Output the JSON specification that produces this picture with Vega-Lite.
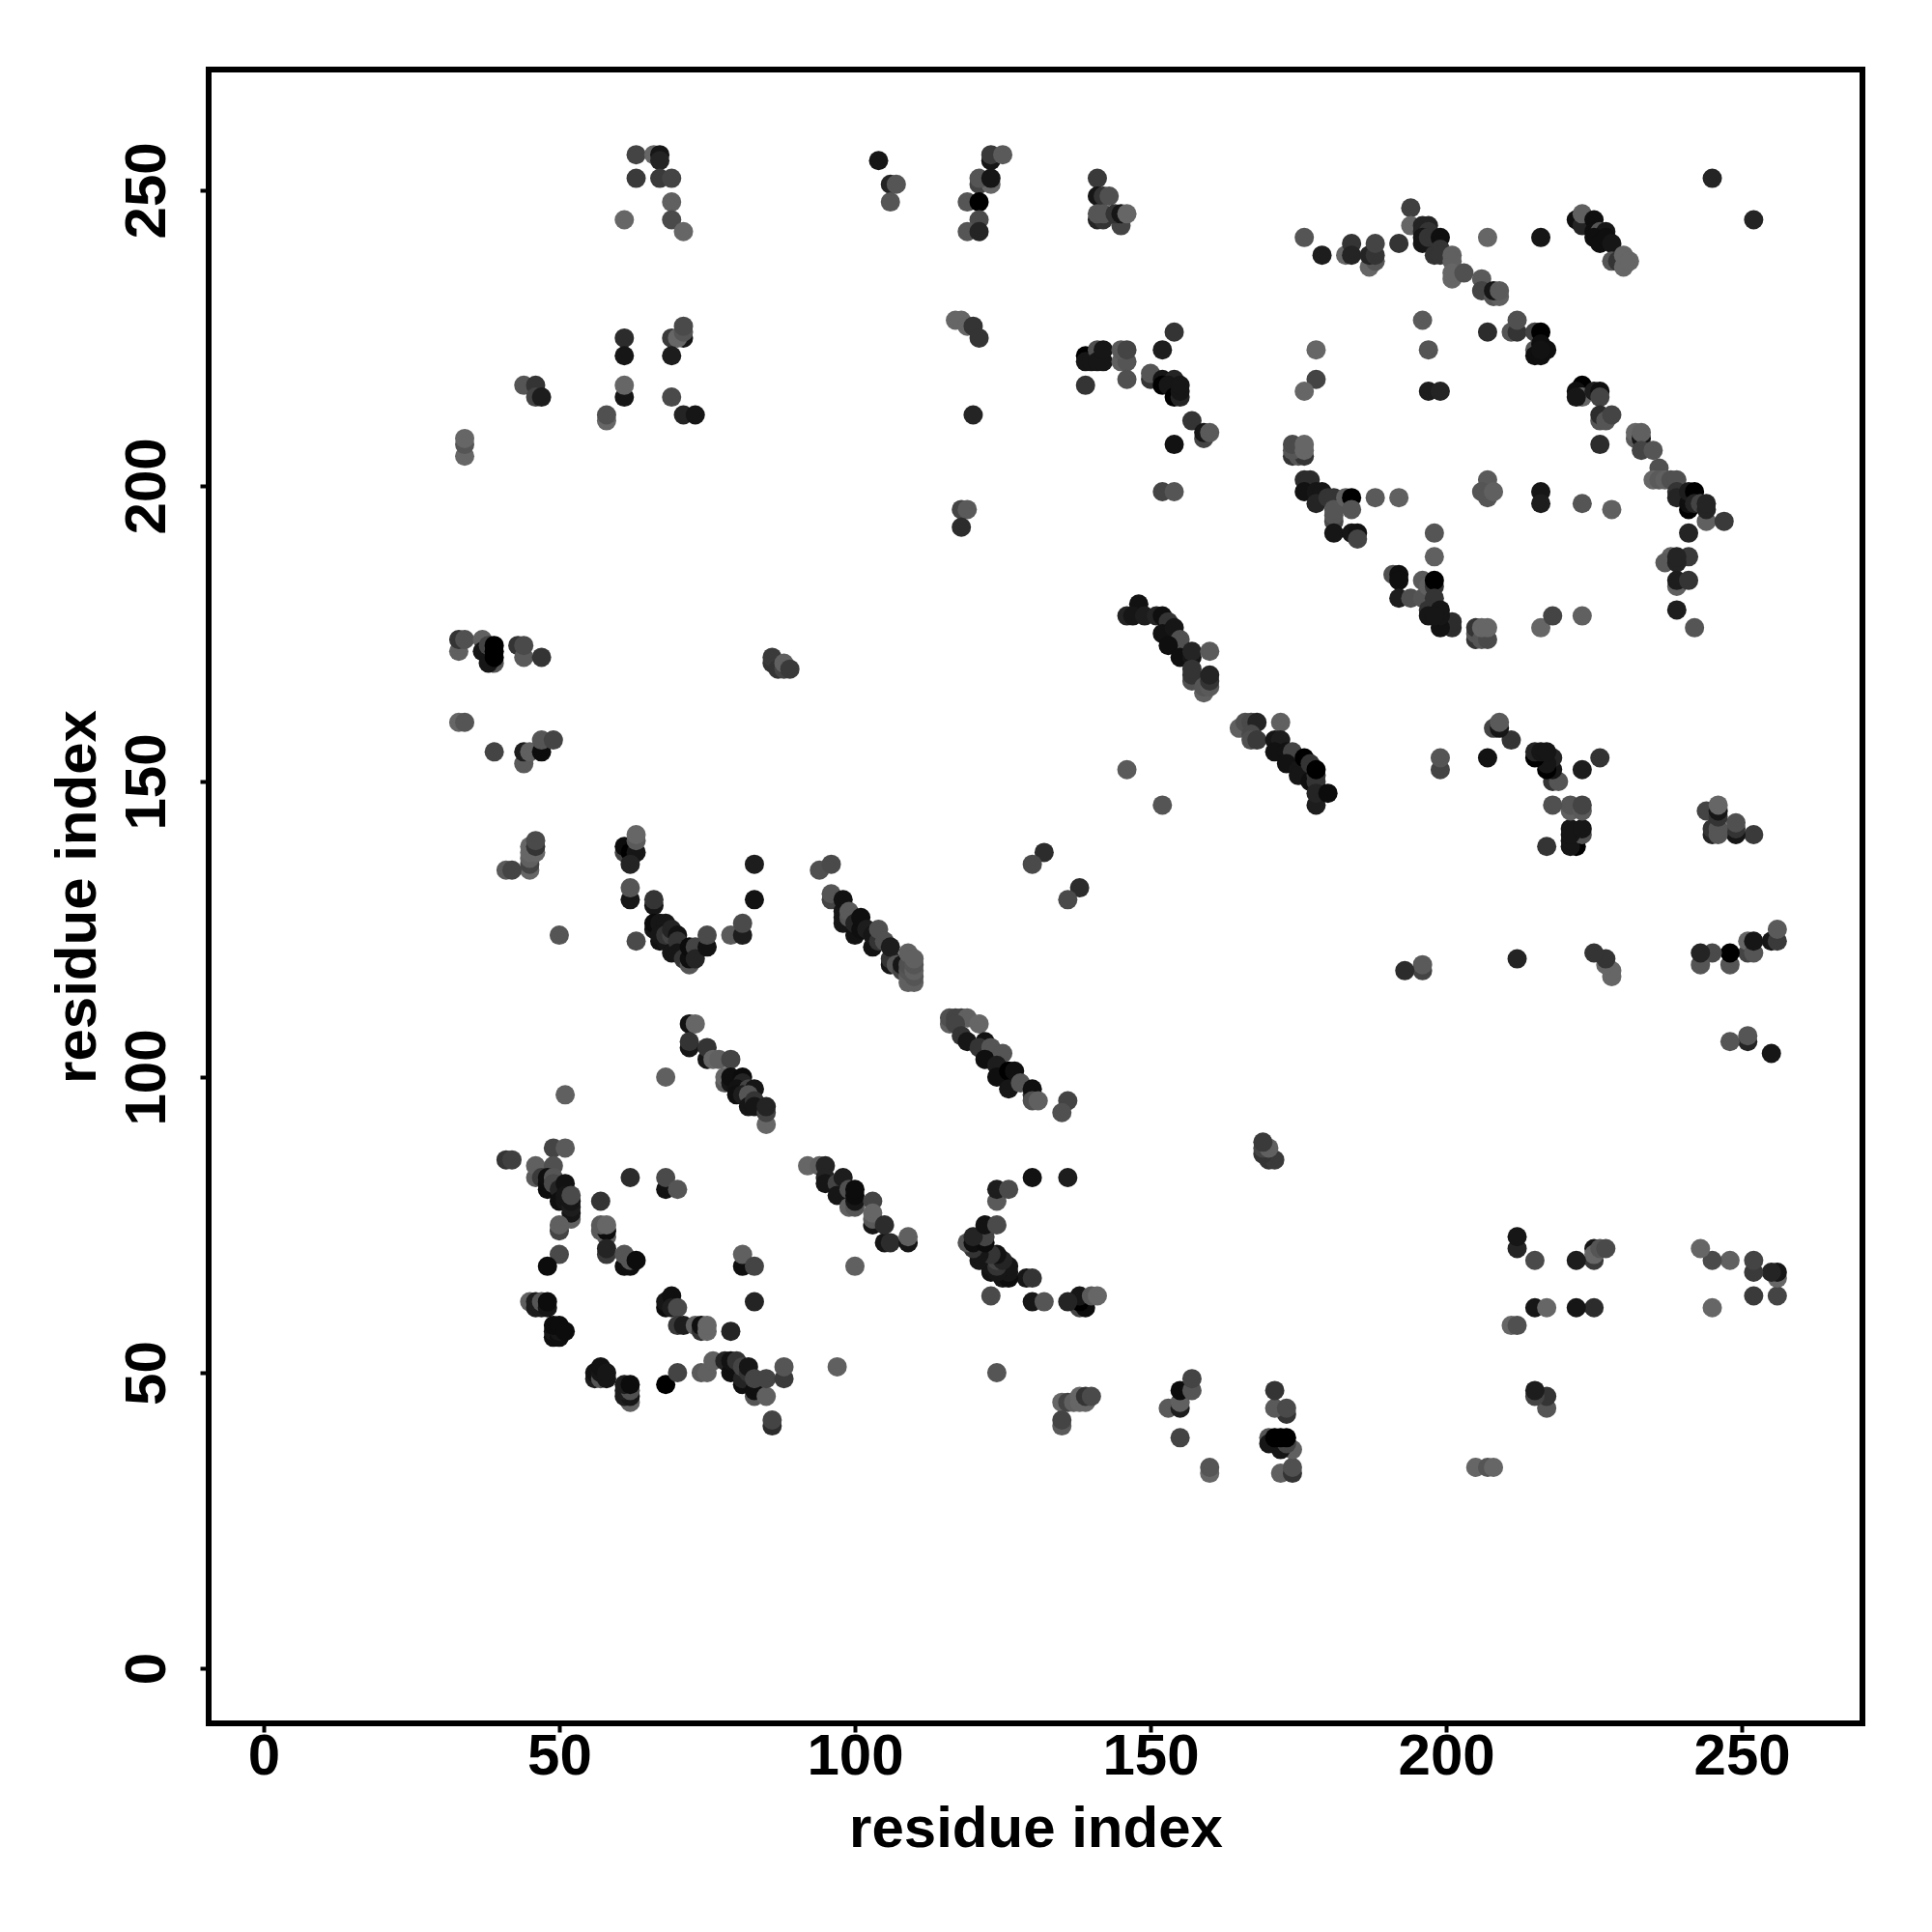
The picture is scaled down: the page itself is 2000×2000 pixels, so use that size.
{"$schema":"https://vega.github.io/schema/vega-lite/v6.json","autosize":"none","width":1712,"height":1712,"padding":{"left":216,"top":72,"right":72,"bottom":216},"background":"white","view":{"stroke":"black","strokeWidth":6,"fill":"white"},"data":{"values":[
{"x":63,"y":256,"g":68},{"x":66,"y":256,"g":102},{"x":67,"y":256,"g":17},{"x":67,"y":255,"g":34},{"x":63,"y":252,"g":58},{"x":67,"y":252,"g":58},{"x":69,"y":252,"g":68},{"x":69,"y":248,"g":96},{"x":61,"y":245,"g":102},{"x":69,"y":245,"g":74},{"x":71,"y":243,"g":102},{"x":104,"y":255,"g":17},{"x":106,"y":251,"g":34},{"x":107,"y":251,"g":85},{"x":106,"y":248,"g":85},{"x":61,"y":225,"g":42},{"x":61,"y":222,"g":17},{"x":69,"y":225,"g":58},{"x":71,"y":225,"g":17},{"x":70,"y":225,"g":102},{"x":71,"y":226,"g":85},{"x":71,"y":227,"g":74},{"x":69,"y":222,"g":26},{"x":44,"y":217,"g":85},{"x":46,"y":217,"g":51},{"x":46,"y":215,"g":68},{"x":47,"y":215,"g":26},{"x":61,"y":215,"g":17},{"x":61,"y":217,"g":102},{"x":69,"y":215,"g":74},{"x":71,"y":212,"g":34},{"x":73,"y":212,"g":17},{"x":58,"y":211,"g":102},{"x":58,"y":212,"g":80},{"x":34,"y":205,"g":102},{"x":34,"y":207,"g":85},{"x":34,"y":208,"g":102},
{"y":63,"x":256,"g":68},{"y":66,"x":256,"g":102},{"y":67,"x":256,"g":17},{"y":67,"x":255,"g":34},{"y":63,"x":252,"g":58},{"y":67,"x":252,"g":58},{"y":69,"x":252,"g":68},{"y":69,"x":248,"g":96},{"y":61,"x":245,"g":102},{"y":69,"x":245,"g":74},{"y":71,"x":243,"g":102},{"y":104,"x":255,"g":17},{"y":106,"x":251,"g":34},{"y":107,"x":251,"g":85},{"y":106,"x":248,"g":85},{"y":61,"x":225,"g":42},{"y":61,"x":222,"g":17},{"y":69,"x":225,"g":58},{"y":71,"x":225,"g":17},{"y":70,"x":225,"g":102},{"y":71,"x":226,"g":85},{"y":71,"x":227,"g":74},{"y":69,"x":222,"g":26},{"y":44,"x":217,"g":85},{"y":46,"x":217,"g":51},{"y":46,"x":215,"g":68},{"y":47,"x":215,"g":26},{"y":61,"x":215,"g":17},{"y":61,"x":217,"g":102},{"y":69,"x":215,"g":74},{"y":71,"x":212,"g":34},{"y":73,"x":212,"g":17},{"y":58,"x":211,"g":102},{"y":58,"x":212,"g":80},{"y":34,"x":205,"g":102},{"y":34,"x":207,"g":85},{"y":34,"x":208,"g":102},
{"x":123,"y":255,"g":17},{"x":123,"y":256,"g":58},{"x":125,"y":256,"g":90},{"x":121,"y":251,"g":68},{"x":123,"y":251,"g":102},{"x":121,"y":252,"g":85},{"x":123,"y":252,"g":17},{"x":119,"y":248,"g":85},{"x":121,"y":248,"g":0},{"x":121,"y":245,"g":74},{"x":119,"y":243,"g":85},{"x":121,"y":243,"g":34},{"x":141,"y":252,"g":58},{"x":141,"y":249,"g":17},{"x":142,"y":249,"g":51},{"x":143,"y":249,"g":80},{"x":141,"y":245,"g":34},{"x":142,"y":245,"g":51},{"x":141,"y":246,"g":85},{"x":142,"y":246,"g":85},{"x":145,"y":244,"g":68},{"x":144,"y":246,"g":51},{"x":145,"y":246,"g":17},{"x":146,"y":246,"g":102},{"x":117,"y":228,"g":102},{"x":118,"y":228,"g":102},{"x":119,"y":227,"g":102},{"x":120,"y":227,"g":51},{"x":121,"y":225,"g":51},{"x":139,"y":222,"g":0},{"x":139,"y":221,"g":17},{"x":140,"y":221,"g":17},{"x":141,"y":223,"g":80},{"x":141,"y":221,"g":17},{"x":142,"y":221,"g":17},{"x":142,"y":223,"g":17},{"x":145,"y":221,"g":96},{"x":146,"y":221,"g":85},{"x":145,"y":223,"g":90},{"x":146,"y":223,"g":68},{"x":139,"y":217,"g":51},{"x":146,"y":218,"g":80},{"x":150,"y":218,"g":51},{"x":150,"y":219,"g":85},{"x":152,"y":218,"g":17},{"x":154,"y":218,"g":34},{"x":152,"y":217,"g":0},{"x":153,"y":217,"g":17},{"x":154,"y":215,"g":0},{"x":155,"y":215,"g":34},{"x":155,"y":216,"g":17},{"x":155,"y":217,"g":17},{"x":152,"y":223,"g":26},{"x":154,"y":226,"g":51},{"x":120,"y":212,"g":34},{"x":157,"y":211,"g":51},{"x":159,"y":208,"g":68},{"x":159,"y":209,"g":17},{"x":160,"y":209,"g":90},{"x":154,"y":207,"g":13},{"x":152,"y":199,"g":68},{"x":154,"y":199,"g":85},{"x":118,"y":196,"g":68},{"x":119,"y":196,"g":90},{"x":118,"y":193,"g":42},
{"y":123,"x":255,"g":17},{"y":123,"x":256,"g":58},{"y":125,"x":256,"g":90},{"y":121,"x":251,"g":68},{"y":123,"x":251,"g":102},{"y":121,"x":252,"g":85},{"y":123,"x":252,"g":17},{"y":119,"x":248,"g":85},{"y":121,"x":248,"g":0},{"y":121,"x":245,"g":74},{"y":119,"x":243,"g":85},{"y":121,"x":243,"g":34},{"y":141,"x":252,"g":58},{"y":141,"x":249,"g":17},{"y":142,"x":249,"g":51},{"y":143,"x":249,"g":80},{"y":141,"x":245,"g":34},{"y":142,"x":245,"g":51},{"y":141,"x":246,"g":85},{"y":142,"x":246,"g":85},{"y":145,"x":244,"g":68},{"y":144,"x":246,"g":51},{"y":145,"x":246,"g":17},{"y":146,"x":246,"g":102},{"y":117,"x":228,"g":102},{"y":118,"x":228,"g":102},{"y":119,"x":227,"g":102},{"y":120,"x":227,"g":51},{"y":121,"x":225,"g":51},{"y":139,"x":222,"g":0},{"y":139,"x":221,"g":17},{"y":140,"x":221,"g":17},{"y":141,"x":223,"g":80},{"y":141,"x":221,"g":17},{"y":142,"x":221,"g":17},{"y":142,"x":223,"g":17},{"y":145,"x":221,"g":96},{"y":146,"x":221,"g":85},{"y":145,"x":223,"g":90},{"y":146,"x":223,"g":68},{"y":139,"x":217,"g":51},{"y":146,"x":218,"g":80},{"y":150,"x":218,"g":51},{"y":150,"x":219,"g":85},{"y":152,"x":218,"g":17},{"y":154,"x":218,"g":34},{"y":152,"x":217,"g":0},{"y":153,"x":217,"g":17},{"y":154,"x":215,"g":0},{"y":155,"x":215,"g":34},{"y":155,"x":216,"g":17},{"y":155,"x":217,"g":17},{"y":152,"x":223,"g":26},{"y":154,"x":226,"g":51},{"y":120,"x":212,"g":34},{"y":157,"x":211,"g":51},{"y":159,"x":208,"g":68},{"y":159,"x":209,"g":17},{"y":160,"x":209,"g":90},{"y":154,"x":207,"g":13},{"y":152,"x":199,"g":68},{"y":154,"x":199,"g":85},{"y":118,"x":196,"g":68},{"y":119,"x":196,"g":90},{"y":118,"x":193,"g":42},
{"x":178,"y":223,"g":102},{"x":178,"y":218,"g":68},{"x":176,"y":216,"g":102},{"x":176,"y":242,"g":85},{"x":179,"y":239,"g":26},{"x":183,"y":239,"g":102},{"x":184,"y":241,"g":51},{"x":184,"y":239,"g":34},{"x":187,"y":237,"g":102},{"x":188,"y":238,"g":85},{"x":187,"y":239,"g":34},{"x":188,"y":239,"g":51},{"x":188,"y":241,"g":68},{"x":192,"y":241,"g":51},{"x":174,"y":205,"g":51},{"x":175,"y":205,"g":85},{"x":176,"y":205,"g":51},{"x":174,"y":206,"g":85},{"x":174,"y":207,"g":74},{"x":176,"y":206,"g":102},{"x":176,"y":207,"g":102},{"x":176,"y":201,"g":42},{"x":177,"y":201,"g":42},{"x":176,"y":199,"g":13},{"x":178,"y":199,"g":17},{"x":179,"y":199,"g":17},{"x":178,"y":197,"g":34},{"x":180,"y":198,"g":51},{"x":181,"y":198,"g":51},{"x":181,"y":194,"g":74},{"x":181,"y":195,"g":85},{"x":181,"y":196,"g":85},{"x":181,"y":192,"g":17},{"x":183,"y":198,"g":96},{"x":184,"y":198,"g":0},{"x":184,"y":196,"g":85},{"x":184,"y":192,"g":17},{"x":185,"y":192,"g":13},{"x":185,"y":191,"g":68},{"x":188,"y":198,"g":90},{"x":192,"y":198,"g":96},
{"y":176,"x":216,"g":102},{"y":176,"x":242,"g":85},{"y":174,"x":205,"g":51},{"y":175,"x":205,"g":85},{"y":176,"x":205,"g":51},{"y":174,"x":206,"g":85},{"y":174,"x":207,"g":74},{"y":176,"x":206,"g":102},{"y":176,"x":207,"g":102},{"y":176,"x":201,"g":42},{"y":177,"x":201,"g":42},{"y":176,"x":199,"g":13},{"y":178,"x":199,"g":17},
{"x":245,"y":252,"g":34},{"x":252,"y":245,"g":34},{"x":194,"y":247,"g":64},{"x":194,"y":244,"g":102},{"x":196,"y":244,"g":34},{"x":197,"y":244,"g":34},{"x":196,"y":243,"g":34},{"x":197,"y":243,"g":51},{"x":196,"y":242,"g":17},{"x":196,"y":241,"g":17},{"x":197,"y":242,"g":51},{"x":198,"y":242,"g":51},{"x":199,"y":242,"g":10},{"x":198,"y":239,"g":51},{"x":199,"y":240,"g":51},{"x":199,"y":239,"g":51},{"x":201,"y":239,"g":96},{"x":201,"y":238,"g":96},{"x":201,"y":235,"g":102},{"x":201,"y":236,"g":102},{"x":203,"y":236,"g":80},{"x":206,"y":235,"g":90},{"x":206,"y":233,"g":68},{"x":208,"y":232,"g":85},{"x":209,"y":232,"g":96},{"x":208,"y":233,"g":17},{"x":209,"y":233,"g":90},{"x":207,"y":242,"g":102},{"x":216,"y":242,"g":17},{"x":222,"y":245,"g":10},{"x":223,"y":244,"g":34},{"x":223,"y":246,"g":96},{"x":225,"y":245,"g":10},{"x":225,"y":243,"g":10},{"x":226,"y":243,"g":85},{"x":227,"y":243,"g":17},{"x":225,"y":242,"g":10},{"x":226,"y":241,"g":10},{"x":227,"y":242,"g":10},{"x":228,"y":241,"g":17},{"x":228,"y":238,"g":85},{"x":229,"y":238,"g":51},{"x":230,"y":237,"g":102},{"x":230,"y":239,"g":102},{"x":231,"y":238,"g":102},
{"x":196,"y":228,"g":90},{"x":197,"y":223,"g":85},{"x":197,"y":216,"g":26},{"x":199,"y":216,"g":34},{"x":207,"y":226,"g":42},{"x":211,"y":226,"g":85},{"x":212,"y":226,"g":51},{"x":212,"y":228,"g":80},{"x":215,"y":226,"g":68},{"x":216,"y":226,"g":0},{"x":215,"y":223,"g":85},{"x":215,"y":222,"g":10},{"x":216,"y":224,"g":10},{"x":216,"y":222,"g":10},{"x":217,"y":223,"g":10},{"x":216,"y":223,"g":13},{"x":223,"y":217,"g":0},{"x":222,"y":216,"g":10},{"x":223,"y":215,"g":102},{"x":222,"y":215,"g":17},{"x":225,"y":216,"g":26},{"x":226,"y":216,"g":10},{"x":226,"y":215,"g":68},{"x":226,"y":211,"g":85},{"x":226,"y":212,"g":42},{"x":227,"y":211,"g":85},{"x":228,"y":212,"g":68},{"x":226,"y":207,"g":42},{"x":232,"y":208,"g":90},{"x":232,"y":209,"g":102},{"x":233,"y":208,"g":17},{"x":233,"y":209,"g":96},{"x":233,"y":206,"g":68},{"x":235,"y":206,"g":85},{"x":236,"y":203,"g":80},{"x":235,"y":201,"g":102},{"x":236,"y":201,"g":90},{"x":237,"y":201,"g":96},{"x":238,"y":201,"g":80},{"x":239,"y":201,"g":80},{"x":239,"y":199,"g":51},{"x":239,"y":198,"g":34},{"x":241,"y":196,"g":0},{"x":241,"y":197,"g":10},{"x":241,"y":199,"g":26},{"x":242,"y":199,"g":0},{"x":242,"y":197,"g":34},{"x":243,"y":197,"g":68},{"x":244,"y":194,"g":96},{"x":244,"y":196,"g":34},{"x":244,"y":197,"g":34},{"x":247,"y":194,"g":58},{"x":241,"y":192,"g":34},{"x":223,"y":197,"g":85},{"x":228,"y":196,"g":96},{"x":216,"y":199,"g":17},{"x":216,"y":197,"g":26},{"x":198,"y":192,"g":85},{"x":198,"y":188,"g":96},{"x":241,"y":188,"g":58},{"x":238,"y":188,"g":96},{"x":237,"y":187,"g":90},{"x":239,"y":187,"g":34},{"x":239,"y":188,"g":34},{"x":239,"y":183,"g":96},{"x":239,"y":184,"g":26},{"x":241,"y":184,"g":51},{"x":239,"y":179,"g":26},{"x":218,"y":178,"g":68},{"x":223,"y":178,"g":96},{"x":207,"y":201,"g":90},{"x":206,"y":199,"g":85},{"x":207,"y":198,"g":85},{"x":208,"y":199,"g":96},{"x":191,"y":185,"g":80},{"x":192,"y":185,"g":10},{"x":192,"y":184,"g":10},{"x":192,"y":181,"g":26},{"x":194,"y":181,"g":80},{"x":196,"y":184,"g":90},{"x":196,"y":181,"g":85},{"x":197,"y":183,"g":96},{"x":198,"y":183,"g":51},{"x":198,"y":184,"g":0},{"x":198,"y":181,"g":51},{"x":197,"y":179,"g":51},{"x":199,"y":179,"g":17},{"x":197,"y":178,"g":17},{"x":198,"y":178,"g":17},
{"x":148,"y":180,"g":13},{"x":146,"y":178,"g":34},{"x":147,"y":178,"g":17},{"x":149,"y":178,"g":26},{"x":151,"y":178,"g":34},{"x":152,"y":178,"g":10},{"x":153,"y":177,"g":51},{"x":152,"y":175,"g":13},{"x":154,"y":176,"g":17},{"x":155,"y":174,"g":80},{"x":153,"y":173,"g":10},{"x":155,"y":171,"g":10},{"x":157,"y":171,"g":17},{"x":157,"y":172,"g":34},{"x":160,"y":172,"g":90},{"x":157,"y":167,"g":80},{"x":157,"y":168,"g":51},{"x":157,"y":169,"g":51},{"x":159,"y":165,"g":96},{"x":159,"y":166,"g":85},{"x":160,"y":166,"g":90},{"x":160,"y":167,"g":51},{"x":160,"y":168,"g":34},
{"x":165,"y":159,"g":96},{"x":166,"y":160,"g":80},{"x":167,"y":160,"g":74},{"x":168,"y":160,"g":34},{"x":167,"y":158,"g":74},{"x":167,"y":157,"g":80},{"x":168,"y":157,"g":58},{"x":172,"y":160,"g":96},{"x":171,"y":157,"g":17},{"x":172,"y":157,"g":26},{"x":171,"y":155,"g":13},{"x":173,"y":155,"g":13},{"x":174,"y":155,"g":68},{"x":173,"y":153,"g":13},{"x":175,"y":152,"g":17},{"x":176,"y":154,"g":0},{"x":175,"y":151,"g":17},{"x":177,"y":153,"g":51},{"x":177,"y":150,"g":10},{"x":178,"y":150,"g":51},{"x":178,"y":151,"g":51},{"x":178,"y":152,"g":0},{"x":178,"y":146,"g":26},{"x":178,"y":148,"g":34},{"x":180,"y":148,"g":8},{"x":146,"y":152,"g":90},{"x":152,"y":146,"g":85},{"x":132,"y":138,"g":42},{"x":130,"y":136,"g":74},{"x":138,"y":132,"g":42},{"x":136,"y":130,"g":74},
{"x":116,"y":109,"g":96},{"x":116,"y":110,"g":80},{"x":117,"y":110,"g":68},{"x":118,"y":110,"g":68},{"x":119,"y":110,"g":96},{"x":117,"y":109,"g":68},{"x":121,"y":109,"g":102},{"x":118,"y":107,"g":51},{"x":119,"y":106,"g":17},{"x":122,"y":106,"g":13},{"x":121,"y":105,"g":51},{"x":123,"y":105,"g":85},{"x":122,"y":103,"g":10},{"x":125,"y":104,"g":85},{"x":124,"y":102,"g":26},{"x":124,"y":100,"g":10},{"x":126,"y":101,"g":0},{"x":127,"y":101,"g":10},{"x":126,"y":98,"g":17},{"x":128,"y":99,"g":85},{"x":130,"y":97,"g":51},{"x":130,"y":98,"g":10},{"x":130,"y":96,"g":80},{"x":131,"y":96,"g":96},{"x":136,"y":96,"g":68},{"x":135,"y":94,"g":80},
{"x":33,"y":172,"g":96},{"x":33,"y":174,"g":51},{"x":34,"y":174,"g":80},{"x":37,"y":174,"g":96},{"x":37,"y":172,"g":17},{"x":38,"y":173,"g":68},{"x":39,"y":170,"g":85},{"x":38,"y":170,"g":17},{"x":39,"y":171,"g":0},{"x":39,"y":172,"g":0},{"x":39,"y":173,"g":0},{"x":43,"y":173,"g":51},{"x":44,"y":171,"g":90},{"x":44,"y":173,"g":74},{"x":47,"y":171,"g":51},{"x":86,"y":170,"g":51},{"x":86,"y":171,"g":58},{"x":87,"y":169,"g":51},{"x":88,"y":169,"g":68},{"x":88,"y":170,"g":96},{"x":89,"y":169,"g":58},{"x":33,"y":160,"g":102},{"x":34,"y":160,"g":85},{"x":39,"y":155,"g":68},{"x":44,"y":153,"g":90},{"x":44,"y":155,"g":26},{"x":45,"y":155,"g":96},{"x":47,"y":155,"g":8},{"x":47,"y":157,"g":85},{"x":49,"y":157,"g":68},{"x":45,"y":135,"g":102},{"x":45,"y":136,"g":68},{"x":45,"y":137,"g":96},{"x":45,"y":138,"g":102},{"x":45,"y":139,"g":102},{"x":46,"y":138,"g":102},{"x":46,"y":139,"g":51},{"x":46,"y":140,"g":74},{"x":41,"y":135,"g":90},{"x":42,"y":135,"g":68},{"x":61,"y":138,"g":68},{"x":61,"y":139,"g":8},{"x":62,"y":138,"g":0},{"x":63,"y":138,"g":17},{"x":63,"y":140,"g":90},{"x":63,"y":141,"g":102},{"x":62,"y":136,"g":34},{"x":62,"y":130,"g":17},{"x":62,"y":132,"g":85},{"x":66,"y":129,"g":17},{"x":66,"y":130,"g":51},{"x":66,"y":125,"g":17},{"x":66,"y":126,"g":8},{"x":67,"y":126,"g":17},{"x":68,"y":126,"g":17},{"x":67,"y":123,"g":13},{"x":63,"y":123,"g":74},{"x":50,"y":124,"g":85},{"x":67,"y":124,"g":17},{"x":68,"y":123,"g":17},{"x":68,"y":124,"g":51},{"x":69,"y":124,"g":68},{"x":69,"y":125,"g":34},{"x":70,"y":124,"g":13},{"x":69,"y":121,"g":17},{"x":70,"y":123,"g":51},{"x":70,"y":121,"g":17},{"x":71,"y":120,"g":51},{"x":72,"y":119,"g":85},{"x":72,"y":120,"g":10},{"x":72,"y":122,"g":8},{"x":73,"y":122,"g":68},{"x":73,"y":120,"g":34},{"x":75,"y":122,"g":13},{"x":75,"y":124,"g":74},{"x":79,"y":124,"g":90},{"x":81,"y":124,"g":26},{"x":81,"y":126,"g":74},{"x":83,"y":130,"g":13},{"x":83,"y":136,"g":26},
{"y":33,"x":172,"g":96},{"y":33,"x":174,"g":51},{"y":34,"x":174,"g":80},{"y":37,"x":174,"g":96},{"y":37,"x":172,"g":17},{"y":38,"x":173,"g":68},{"y":39,"x":170,"g":85},{"y":38,"x":170,"g":17},{"y":39,"x":171,"g":0},{"y":39,"x":172,"g":0},{"y":39,"x":173,"g":0},{"y":43,"x":173,"g":51},{"y":44,"x":171,"g":90},{"y":44,"x":173,"g":74},{"y":47,"x":171,"g":51},{"y":86,"x":170,"g":51},{"y":86,"x":171,"g":58},{"y":87,"x":169,"g":51},{"y":88,"x":169,"g":68},{"y":88,"x":170,"g":96},{"y":89,"x":169,"g":58},{"y":33,"x":160,"g":102},{"y":34,"x":160,"g":85},{"y":39,"x":155,"g":68},{"y":44,"x":153,"g":90},{"y":44,"x":155,"g":26},{"y":45,"x":155,"g":96},{"y":47,"x":155,"g":8},{"y":47,"x":157,"g":85},{"y":49,"x":157,"g":68},{"y":45,"x":135,"g":102},{"y":45,"x":136,"g":68},{"y":45,"x":137,"g":96},{"y":45,"x":138,"g":102},{"y":45,"x":139,"g":102},{"y":46,"x":138,"g":102},{"y":46,"x":139,"g":51},{"y":46,"x":140,"g":74},{"y":41,"x":135,"g":90},{"y":42,"x":135,"g":68},{"y":61,"x":138,"g":68},{"y":61,"x":139,"g":8},{"y":62,"x":138,"g":0},{"y":63,"x":138,"g":17},{"y":63,"x":140,"g":90},{"y":63,"x":141,"g":102},{"y":62,"x":136,"g":34},{"y":62,"x":130,"g":17},{"y":62,"x":132,"g":85},{"y":66,"x":129,"g":17},{"y":66,"x":130,"g":51},{"y":66,"x":125,"g":17},{"y":66,"x":126,"g":8},{"y":67,"x":126,"g":17},{"y":68,"x":126,"g":17},{"y":67,"x":123,"g":13},{"y":63,"x":123,"g":74},{"y":50,"x":124,"g":85},{"y":67,"x":124,"g":17},{"y":68,"x":123,"g":17},{"y":68,"x":124,"g":51},{"y":69,"x":124,"g":68},{"y":69,"x":125,"g":34},{"y":70,"x":124,"g":13},{"y":69,"x":121,"g":17},{"y":70,"x":123,"g":51},{"y":70,"x":121,"g":17},{"y":71,"x":120,"g":51},{"y":72,"x":119,"g":85},{"y":72,"x":120,"g":10},{"y":72,"x":122,"g":8},{"y":73,"x":122,"g":68},{"y":73,"x":120,"g":34},{"y":75,"x":122,"g":13},{"y":75,"x":124,"g":74},{"y":79,"x":124,"g":90},{"y":81,"x":124,"g":26},{"y":81,"x":126,"g":74},{"y":83,"x":130,"g":13},{"y":83,"x":136,"g":26},
{"x":94,"y":135,"g":80},{"x":96,"y":136,"g":74},{"x":96,"y":130,"g":68},{"x":96,"y":131,"g":85},{"x":98,"y":126,"g":17},{"x":98,"y":127,"g":17},{"x":98,"y":128,"g":17},{"x":98,"y":130,"g":13},{"x":99,"y":127,"g":85},{"x":99,"y":128,"g":90},{"x":100,"y":124,"g":13},{"x":100,"y":126,"g":34},{"x":101,"y":125,"g":10},{"x":101,"y":127,"g":10},{"x":102,"y":125,"g":26},{"x":103,"y":122,"g":13},{"x":103,"y":124,"g":17},{"x":104,"y":123,"g":51},{"x":104,"y":125,"g":80},{"x":105,"y":123,"g":80},{"x":106,"y":119,"g":17},{"x":106,"y":120,"g":51},{"x":106,"y":122,"g":26},{"x":107,"y":119,"g":85},{"x":108,"y":118,"g":68},{"x":108,"y":119,"g":17},{"x":109,"y":116,"g":96},{"x":109,"y":117,"g":96},{"x":109,"y":118,"g":85},{"x":109,"y":119,"g":80},{"x":109,"y":121,"g":96},{"x":110,"y":116,"g":96},{"x":110,"y":117,"g":85},{"x":110,"y":118,"g":96},{"x":110,"y":119,"g":85},{"x":110,"y":120,"g":96},
{"x":72,"y":109,"g":13},{"x":73,"y":109,"g":102},{"x":72,"y":105,"g":17},{"x":72,"y":106,"g":51},{"x":75,"y":103,"g":17},{"x":75,"y":105,"g":51},{"x":76,"y":103,"g":102},{"x":77,"y":103,"g":96},{"x":79,"y":103,"g":68},{"x":68,"y":100,"g":96},{"x":78,"y":99,"g":90},{"x":78,"y":100,"g":102},{"x":79,"y":99,"g":17},{"x":79,"y":100,"g":10},{"x":81,"y":100,"g":8},{"x":81,"y":99,"g":34},{"x":80,"y":98,"g":13},{"x":82,"y":98,"g":68},{"x":83,"y":98,"g":17},{"x":51,"y":97,"g":96},{"x":80,"y":97,"g":10},{"x":81,"y":97,"g":26},{"x":82,"y":97,"g":85},{"x":82,"y":95,"g":17},{"x":83,"y":96,"g":51},{"x":83,"y":95,"g":17},{"x":85,"y":92,"g":102},{"x":85,"y":94,"g":68},{"x":85,"y":95,"g":34},
{"x":41,"y":86,"g":51},{"x":42,"y":86,"g":64},{"x":49,"y":88,"g":68},{"x":51,"y":88,"g":90},{"x":46,"y":83,"g":90},{"x":46,"y":85,"g":96},{"x":49,"y":85,"g":80},{"x":47,"y":83,"g":58},{"x":48,"y":81,"g":8},{"x":48,"y":82,"g":8},{"x":48,"y":83,"g":10},{"x":49,"y":83,"g":85},{"x":49,"y":82,"g":74},{"x":50,"y":81,"g":34},{"x":51,"y":81,"g":34},{"x":51,"y":82,"g":13},{"x":50,"y":79,"g":10},{"x":51,"y":79,"g":17},{"x":51,"y":80,"g":17},{"x":52,"y":76,"g":96},{"x":52,"y":77,"g":17},{"x":52,"y":78,"g":26},{"x":52,"y":79,"g":17},{"x":52,"y":80,"g":74},{"x":50,"y":74,"g":68},{"x":50,"y":75,"g":96},{"x":50,"y":70,"g":74},{"x":48,"y":68,"g":8},{"x":57,"y":79,"g":51},{"x":57,"y":74,"g":90},{"x":58,"y":73,"g":96},{"x":58,"y":74,"g":8},{"x":57,"y":75,"g":90},{"x":58,"y":75,"g":102},{"x":58,"y":70,"g":58},{"x":58,"y":71,"g":34},{"x":61,"y":68,"g":10},{"x":61,"y":70,"g":85},{"x":62,"y":68,"g":10},{"x":62,"y":69,"g":85},{"x":63,"y":69,"g":8},{"x":62,"y":83,"g":42},{"x":68,"y":81,"g":13},{"x":68,"y":83,"g":74},{"x":70,"y":81,"g":85},{"x":81,"y":68,"g":10},{"x":81,"y":70,"g":96},{"x":83,"y":68,"g":68},{"x":83,"y":62,"g":34},{"x":100,"y":68,"g":96},{"x":68,"y":61,"g":8},{"x":68,"y":62,"g":17},{"x":69,"y":63,"g":10},{"x":69,"y":61,"g":26},{"x":70,"y":61,"g":74},{"x":70,"y":58,"g":58},{"x":71,"y":58,"g":26},{"x":73,"y":58,"g":96},{"x":74,"y":57,"g":51},{"x":74,"y":58,"g":10},{"x":75,"y":57,"g":102},{"x":75,"y":58,"g":102},{"x":79,"y":57,"g":34},{"x":45,"y":62,"g":96},{"x":46,"y":61,"g":26},{"x":46,"y":62,"g":26},{"x":47,"y":61,"g":26},{"x":47,"y":62,"g":85},{"x":48,"y":61,"g":17},{"x":48,"y":62,"g":8},{"x":49,"y":56,"g":10},{"x":49,"y":57,"g":17},{"x":50,"y":56,"g":10},{"x":50,"y":57,"g":17},{"x":49,"y":58,"g":8},{"x":50,"y":58,"g":8},{"x":51,"y":57,"g":8},{"x":56,"y":49,"g":26},{"x":56,"y":50,"g":13},{"x":57,"y":49,"g":85},{"x":57,"y":50,"g":17},{"x":57,"y":51,"g":13},{"x":58,"y":49,"g":17},{"x":58,"y":50,"g":17},{"x":62,"y":45,"g":96},{"x":61,"y":46,"g":26},{"x":62,"y":46,"g":17},{"x":61,"y":47,"g":26},{"x":62,"y":47,"g":80},{"x":61,"y":48,"g":26},{"x":62,"y":48,"g":8},{"x":68,"y":48,"g":0},{"x":70,"y":50,"g":68},{"x":74,"y":50,"g":90},{"x":75,"y":50,"g":96},{"x":76,"y":52,"g":96},{"x":78,"y":52,"g":34},{"x":79,"y":50,"g":10},{"x":79,"y":52,"g":13},{"x":80,"y":52,"g":51},{"x":81,"y":48,"g":10},{"x":81,"y":49,"g":34},{"x":81,"y":51,"g":68},{"x":82,"y":50,"g":51},{"x":82,"y":51,"g":17},{"x":83,"y":46,"g":85},{"x":83,"y":47,"g":10},{"x":83,"y":49,"g":68},{"x":85,"y":46,"g":96},{"x":85,"y":49,"g":68},{"x":88,"y":49,"g":58},{"x":88,"y":51,"g":85},{"x":97,"y":51,"g":96},{"x":86,"y":41,"g":42},{"x":86,"y":42,"g":68},
{"x":92,"y":85,"g":102},{"x":94,"y":85,"g":96},{"x":95,"y":85,"g":34},{"x":95,"y":83,"g":34},{"x":95,"y":82,"g":17},{"x":97,"y":82,"g":68},{"x":97,"y":80,"g":17},{"x":98,"y":83,"g":26},{"x":99,"y":78,"g":96},{"x":99,"y":81,"g":80},{"x":100,"y":78,"g":85},{"x":100,"y":79,"g":17},{"x":100,"y":80,"g":8},{"x":100,"y":81,"g":8},{"x":103,"y":79,"g":68},{"x":103,"y":75,"g":17},{"x":103,"y":76,"g":90},{"x":103,"y":77,"g":102},{"x":105,"y":72,"g":17},{"x":105,"y":75,"g":42},{"x":106,"y":72,"g":42},{"x":109,"y":72,"g":17},{"x":109,"y":73,"g":96}
]},"mark":{"type":"circle","size":400,"opacity":1},"encoding":{"x":{"field":"x","type":"quantitative","scale":{"domain":[-9.3,270.4],"nice":false,"zero":false},"axis":{"title":"residue index","values":[0,50,100,150,200,250],"grid":false,"domain":false,"tickSize":9,"tickWidth":4,"tickColor":"black","labelFont":"Liberation Sans","labelFontWeight":"bold","labelFontSize":60,"labelColor":"black","labelBaseline":"alphabetic","labelPadding":43,"labelFlush":false,"labelOverlap":false,"titleFont":"Liberation Sans","titleFontWeight":"bold","titleFontSize":60,"titleColor":"black","titleBaseline":"alphabetic","titleX":856,"titleY":127}},"y":{"field":"y","type":"quantitative","scale":{"domain":[-9.3,270.4],"nice":false,"zero":false},"axis":{"title":"residue index","values":[0,50,100,150,200,250],"grid":false,"domain":false,"tickSize":9,"tickWidth":4,"tickColor":"black","labelFont":"Liberation Sans","labelFontWeight":"bold","labelFontSize":60,"labelColor":"black","labelAngle":-90,"labelAlign":"center","labelBaseline":"alphabetic","labelPadding":37,"labelFlush":false,"labelOverlap":false,"titleFont":"Liberation Sans","titleFontWeight":"bold","titleFontSize":60,"titleColor":"black","titleAngle":-90,"titleBaseline":"alphabetic","titleX":-118,"titleY":856}},"color":{"field":"g","type":"quantitative","legend":null,"scale":{"domain":[0,102],"range":["#000000","#666666"]}}}}
